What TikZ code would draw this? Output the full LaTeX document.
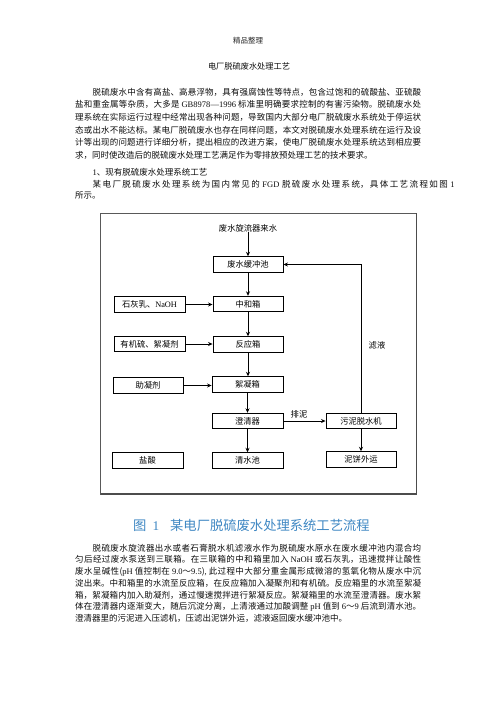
\documentclass[tikz,border=0pt]{standalone}
\usepackage{fontspec}
\setmainfont{Noto Sans CJK SC}
\newfontfamily\latf{Liberation Serif}
\usetikzlibrary{arrows.meta}
\XeTeXlinebreaklocale "zh"
\XeTeXlinebreakskip=0pt plus 2pt
\definecolor{capblue}{RGB}{62,135,195}
\newcommand\bodyfnt{\fontsize{8.5pt}{10pt}\selectfont}
\tikzset{
  box/.style={draw, line width=0.9pt, minimum width=70pt, minimum height=15.5pt,
    inner sep=0pt, font=\fontsize{8.3pt}{9pt}\selectfont, fill=white},
  plain/.style={inner sep=0pt, font=\fontsize{8.3pt}{9pt}\selectfont},
  arr/.style={-{Stealth[length=4.5pt,width=4pt]}, line width=0.9pt},
  jline/.style={anchor=west, inner sep=0pt, text width=#1, align=justify, font=\bodyfnt, text=black!95},
  rline/.style={anchor=west, inner sep=0pt, font=\bodyfnt, text=black!95}
}
\begin{document}
\begin{tikzpicture}[x=1pt,y=-1pt]
\useasboundingbox[fill=white] (0,0) rectangle (496,702);

% header and title
\node[inner sep=0pt, font=\fontsize{7.5pt}{9pt}\selectfont, text=black!85] (hdr) at (248,40.7) {精品整理};
\node[inner sep=0pt, font=\fontsize{8.2pt}{10pt}\selectfont, text=black!95] (ttl) at (249,66) {电厂脱硫废水处理工艺};

% first paragraph
\node[jline=328.5pt] (t1) at (92.5,92) {\parfillskip=0pt\relax 脱硫废水中含有高盐、高悬浮物，具有强腐蚀性等特点，包含过饱和的硫酸盐、亚硫酸\par};
\node[jline=346pt] (t2) at (75,104.7) {\parfillskip=0pt\relax 盐和重金属等杂质，大多是 {\latf GB8978—1996} 标准里明确要求控制的有害污染物。脱硫废水处\par};
\node[jline=346pt] (t3) at (75,117.3) {\parfillskip=0pt\relax 理系统在实际运行过程中经常出现各种问题，导致国内大部分电厂脱硫废水系统处于停运状\par};
\node[jline=346pt] (t4) at (75,130) {\parfillskip=0pt\relax 态或出水不能达标。某电厂脱硫废水也存在同样问题，本文对脱硫废水处理系统在运行及设\par};
\node[jline=346pt] (t5) at (75,142.7) {\parfillskip=0pt\relax 计等出现的问题进行详细分析，提出相应的改进方案，使电厂脱硫废水处理系统达到相应要\par};
\node[rline] (t6) at (75,155.5) {求，同时使改造后的脱硫废水处理工艺满足作为零排放预处理工艺的技术要求。};
\node[rline] (t7) at (92.5,172) {{\latf 1}、现有脱硫废水处理系统工艺};
\node[jline=362pt] (t8) at (92.5,184) {\parfillskip=0pt\relax 某电厂脱硫废水处理系统为国内常见的 {\latf FGD} 脱硫废水处理系统，具体工艺流程如图 {\latf 1}\par};
\node[rline] (t9) at (75,195.5) {所示。};

% frame
\draw[line width=0.6pt, black!65] (100.5,213) rectangle (416.5,494);
\draw[line width=1.6pt, black!70] (416.5,213) -- (416.5,494) -- (100.5,494);

% flow chart
\node[plain] (src) at (248,228) {废水旋流器来水};
\node[box] (buf) at (248,264.5) {废水缓冲池};
\node[box] (neu) at (248,304) {中和箱};
\node[box, minimum width=71pt] (lime) at (149.5,304.5) {石灰乳、{\latf NaOH}};
\node[box] (react) at (248,344.5) {反应箱};
\node[box, minimum width=71pt] (org) at (149.5,344) {有机硫、絮凝剂};
\node[box, minimum width=71pt] (floc) at (247.5,384.5) {絮凝箱};
\node[box] (coag) at (148,385.5) {助凝剂};
\node[box, minimum width=71pt] (clar) at (247.5,421) {澄清器};
\node[box] (dew) at (361,421) {污泥脱水机};
\node[box, minimum width=71pt] (hcl) at (147.5,460.5) {盐酸};
\node[box, minimum width=71pt] (clean) at (247.5,460.5) {清水池};
\node[box] (cake) at (361,459.5) {泥饼外运};
\node[plain] (mud) at (299,414.5) {排泥};
\node[plain] (filt) at (377,345) {滤液};

\draw[arr] (src) -- (buf);
\draw[arr] (buf) -- (neu);
\draw[arr] (neu) -- (react);
\draw[arr] (react.south) -- (floc.north -| react.south);
\draw[arr] (floc) -- (clar);
\draw[arr] (clar) -- (clean);
\draw[arr] (lime) -- (lime -| neu.west);
\draw[arr] (org) -- (org -| react.west);
\draw[arr, line width=0.7pt] (coag) -- (coag -| floc.west);
\draw[arr, line width=0.7pt] (clar) -- (dew);
\draw[arr] (dew) -- (cake);
\draw[arr, line width=0.7pt] (dew.north) -- (dew.north |- buf.east) -- (buf.east);

% caption
\node[anchor=west, inner sep=0pt, font=\fontsize{13.3pt}{15pt}\selectfont, text=capblue] (cap) at (133,525)
  {图\hspace{6pt}{\latf 1}\hspace{11pt}某电厂脱硫废水处理系统工艺流程};

% second paragraph
\node[jline=328.5pt] (b1) at (92.5,548) {\parfillskip=0pt\relax 脱硫废水旋流器出水或者石膏脱水机滤液水作为脱硫废水原水在废水缓冲池内混合均\par};
\node[jline=346pt] (b2) at (75,559.8) {\parfillskip=0pt\relax 匀后经过废水泵送到三联箱。在三联箱的中和箱里加入 {\latf NaOH} 或石灰乳，迅速搅拌让酸性\par};
\node[jline=346pt] (b3) at (75,571.6) {\parfillskip=0pt\relax 废水呈碱性({\latf pH} 值控制在 {\latf 9.0}～{\latf 9.5}){\latf ,} 此过程中大部分重金属形成微溶的氢氧化物从废水中沉\par};
\node[jline=346pt] (b4) at (75,583.4) {\parfillskip=0pt\relax 淀出来。中和箱里的水流至反应箱，在反应箱加入凝聚剂和有机硫。反应箱里的水流至絮凝\par};
\node[jline=346pt] (b5) at (75,595.2) {\parfillskip=0pt\relax 箱，絮凝箱内加入助凝剂，通过慢速搅拌进行絮凝反应。絮凝箱里的水流至澄清器。废水絮\par};
\node[jline=346pt] (b6) at (75,607) {\parfillskip=0pt\relax 体在澄清器内逐渐变大，随后沉淀分离，上清液通过加酸调整 {\latf pH} 值到 {\latf 6}～{\latf 9} 后流到清水池。\par};
\node[rline] (b7) at (75,618.8) {澄清器里的污泥进入压滤机，压滤出泥饼外运，滤液返回废水缓冲池中。};
\end{tikzpicture}
\end{document}
